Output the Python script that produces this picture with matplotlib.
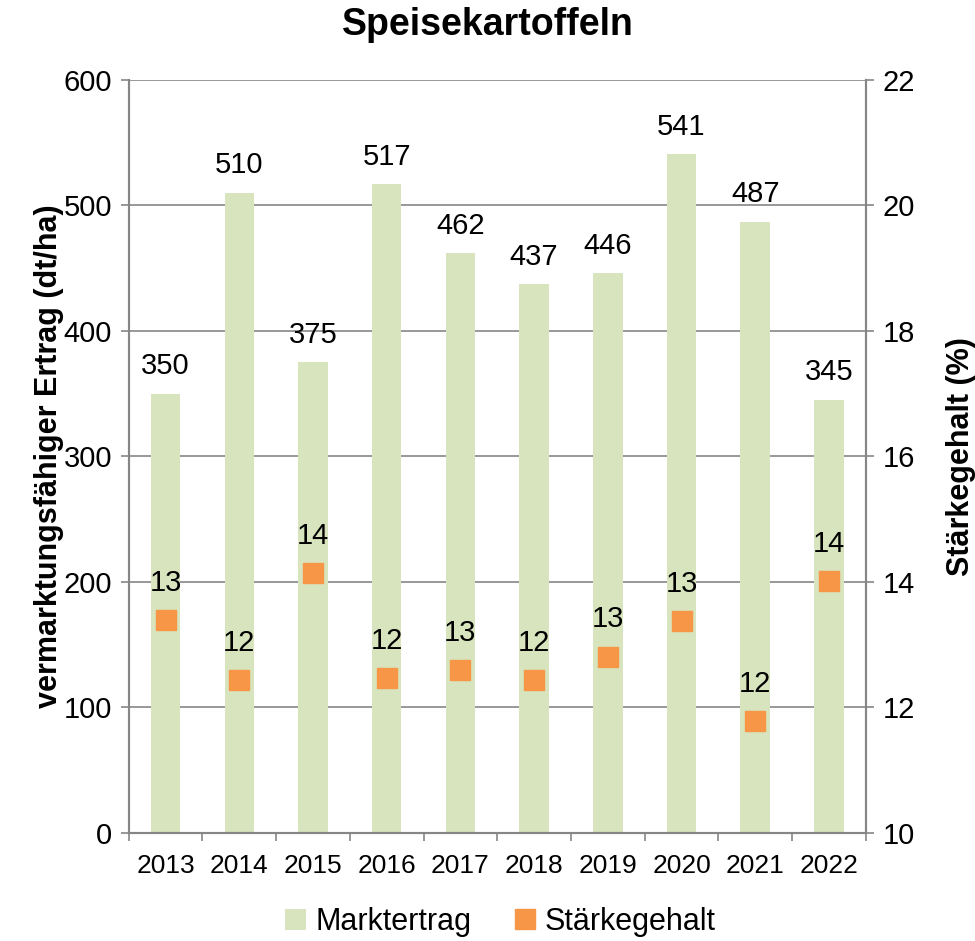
import numpy as np
import matplotlib.pyplot as plt

years = ['2013', '2014', '2015', '2016', '2017', '2018', '2019', '2020', '2021', '2022']
marktertrag = [350, 510, 375, 517, 462, 437, 446, 541, 487, 345]
staerke = [13.39, 12.44, 14.14, 12.46, 12.6, 12.44, 12.81, 13.38, 11.78, 14.01]

BAR_COLOR = '#d7e4bd'
MARKER_COLOR = '#f79646'
AXIS_GRAY = '#868686'

plt.rcParams['font.family'] = ['Liberation Sans', 'DejaVu Sans']

fig = plt.figure(figsize=(9.75, 9.41), dpi=100)
ax = fig.add_axes([0.132, 0.115, 0.756, 0.800])
ax2 = ax.twinx()

x = np.arange(len(years))
bars = ax.bar(x, marktertrag, width=0.4, color=BAR_COLOR, zorder=2, label='Marktertrag')
for xi, v in zip(x, marktertrag):
    ax.annotate(str(v), (xi, v), xytext=(0, 14), textcoords='offset points',
                ha='center', va='baseline', fontsize=21)

pts, = ax2.plot(x, staerke, linestyle='none', marker='s', markersize=15,
                color=MARKER_COLOR, zorder=3, label='Stärkegehalt')
for xi, v in zip(x, staerke):
    ax2.annotate(f'{v:.0f}', (xi, v), xytext=(0, 21), textcoords='offset points',
                 ha='center', va='baseline', fontsize=21)

ax.set_xlim(-0.5, len(years) - 0.5)
ax.set_ylim(0, 600)
ax.set_yticks(range(0, 601, 100))
ax2.set_ylim(10, 22)
ax2.set_yticks(range(10, 23, 2))

ax.set_xticks(x)
ax.set_xticklabels(years, fontsize=19)
ax.set_xticks(np.arange(-0.5, len(years)), minor=True)
ax.tick_params(axis='x', which='major', length=0, pad=15)
ax.tick_params(axis='x', which='minor', length=6, color=AXIS_GRAY, width=1.2)

ax.tick_params(axis='y', labelsize=21, length=6, color=AXIS_GRAY, width=1.2, pad=6)
ax2.tick_params(axis='y', labelsize=21, length=6, color=AXIS_GRAY, width=1.2, pad=6)

ax.grid(axis='y', color=AXIS_GRAY, linewidth=1.2, zorder=0)
ax.set_axisbelow(True)

for a in (ax, ax2):
    a.spines['top'].set_visible(False)
    for s in ('left', 'right', 'bottom'):
        a.spines[s].set_color(AXIS_GRAY)
        a.spines[s].set_linewidth(1.5)

ax.set_ylabel('vermarktungsfähiger Ertrag (dt/ha)', fontsize=22, fontweight='bold', labelpad=0)
ax2.set_ylabel('Stärkegehalt (%)', fontsize=22, fontweight='bold', labelpad=22)
fig.text(0.5, 0.973, 'Speisekartoffeln', fontsize=27, fontweight='bold',
         ha='center', va='center')

fig.legend([bars, pts], ['Marktertrag', 'Stärkegehalt'], loc='lower center',
           bbox_to_anchor=(0.513, -0.025), ncol=2, frameon=False, fontsize=22,
           handlelength=0.7, handleheight=0.7, handletextpad=0.3, columnspacing=1.4)

plt.savefig('out.png', dpi=100)
